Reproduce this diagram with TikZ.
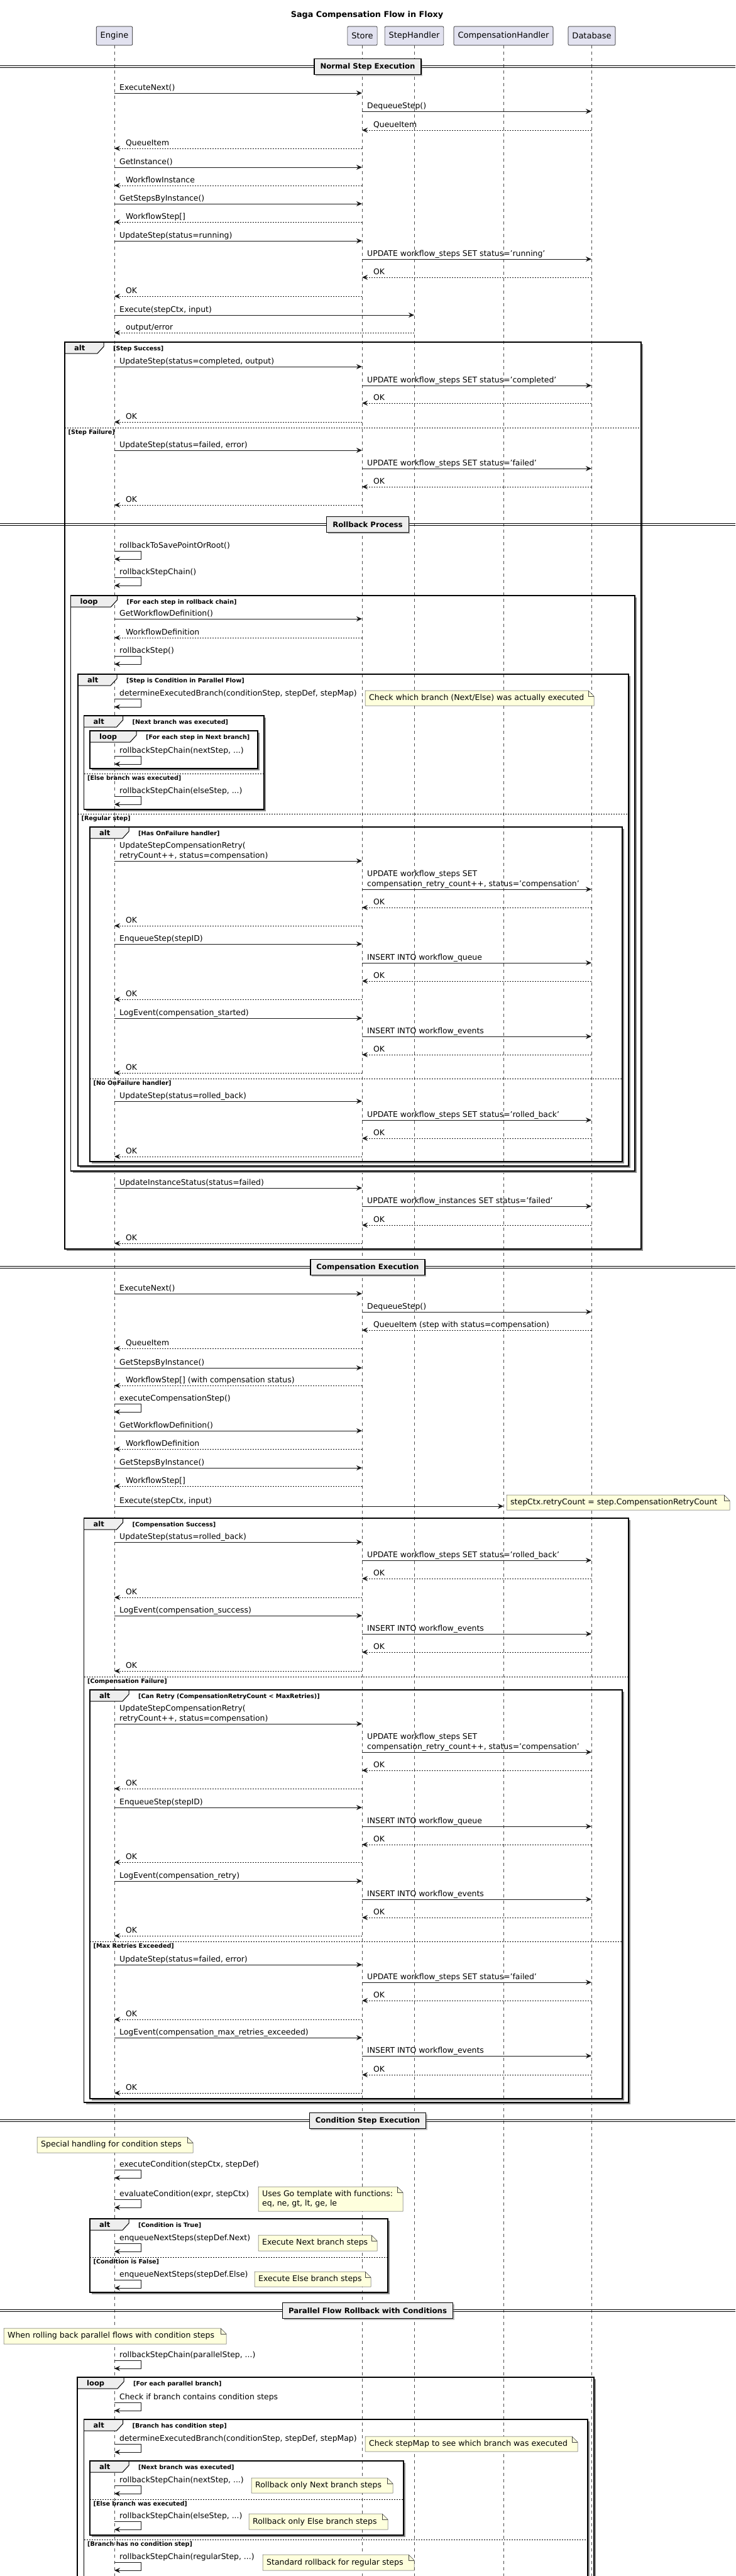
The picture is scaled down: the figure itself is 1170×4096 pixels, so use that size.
\documentclass[tikz,border=0pt]{standalone}
\usepackage{fontspec}
\setmainfont{DejaVu Sans}
\usetikzlibrary{arrows.meta,shadows}
\definecolor{partfill}{HTML}{E2E2F0}
\definecolor{notefill}{HTML}{FEFFDD}
\definecolor{lncol}{HTML}{181818}
\definecolor{divfill}{HTML}{EEEEEE}
\newcounter{mc}
\def\xE{182}\def\xS{576}\def\xH{659}\def\xC{801}\def\xD{941}
\tikzset{
  titletext/.style={font=\bfseries\fontsize{12.8}{15}\selectfont, inner sep=0},
  part/.style={draw=lncol, fill=partfill, line width=0.6pt, rounded corners=2pt,
    minimum height=30pt, inner xsep=6.5pt, inner ysep=0pt, font=\fontsize{13}{15}\selectfont},
  lifeline/.style={line width=0.6pt, draw=black!70, dash pattern=on 5pt off 5pt},
  callarr/.style={line width=1pt, draw=lncol, -{Stealth[length=9pt,width=8pt,inset=3pt]}},
  retarr/.style={line width=1pt, draw=lncol, dash pattern=on 2pt off 2pt, -{Stealth[length=9pt,width=8pt,inset=3pt]}},
  msg/.style={anchor=base west, inner sep=0, font=\fontsize{12.4}{15}\selectfont},
  frameline/.style={line width=1.3pt, draw=black},
  frshadow/.style={line width=1.5pt, draw=black!45},
  tabfill/.style={fill=divfill},
  tabline/.style={line width=1pt, draw=black},
  tabtext/.style={anchor=base west, inner sep=0, font=\bfseries\fontsize{11.5}{13}\selectfont},
  guard/.style={anchor=base west, inner sep=0, font=\bfseries\fontsize{9.6}{11}\selectfont},
  elseline/.style={line width=0.8pt, draw=black, dash pattern=on 2pt off 2pt},
  notebox/.style={fill=notefill, draw=lncol!80, line width=0.5pt},
  notetext/.style={anchor=west, inner sep=0, align=left, font=\fontsize{12.5}{15}\selectfont},
  divline/.style={line width=1pt, draw=black},
  divbox/.style={draw=black, line width=1.2pt, fill=divfill, minimum height=25pt,
    inner xsep=9.5pt, inner ysep=0pt, font=\bfseries\fontsize{11.7}{14}\selectfont,
    drop shadow={shadow xshift=2pt, shadow yshift=-2pt, opacity=0.5}}
}
% rightward call message
\newcommand\Call[4]{%
  \stepcounter{mc}%
  \coordinate (ca\themc) at (#1,#3);
  \coordinate (cb\themc) at (#2,#3);
  \draw[callarr] (ca\themc) -- (cb\themc);
  \node[msg] (cl\themc) at ({#1+8},{#3-4.5}) {#4};
}
% rightward call message, two lines
\newcommand\CallTwo[5]{%
  \stepcounter{mc}%
  \coordinate (ca\themc) at (#1,#3);
  \coordinate (cb\themc) at (#2,#3);
  \draw[callarr] (ca\themc) -- (cb\themc);
  \node[msg] (ck\themc) at ({#1+8},{#3-20.5}) {#4};
  \node[msg] (cl\themc) at ({#1+8},{#3-4.5}) {#5};
}
% leftward return message (from right #1 to left #2)
\newcommand\Ret[4]{%
  \stepcounter{mc}%
  \coordinate (ra\themc) at (#1,#3);
  \coordinate (rb\themc) at (#2,#3);
  \draw[retarr] (ra\themc) -- (rb\themc);
  \node[msg] (rl\themc) at ({#2+18},{#3-4.5}) {#4};
}
% self message on Engine
\newcommand\Self[2]{%
  \stepcounter{mc}%
  \coordinate (sa\themc) at (\xE,#1);
  \coordinate (sb\themc) at (\xE,{#1+13});
  \draw[callarr] (sa\themc) -- ++(42,0) |- (sb\themc);
  \node[msg] (sl\themc) at ({\xE+8},{#1-4.5}) {#2};
}
% frame: x0 y0 x1 y1 kind tabwidth guard
\newcommand\Frame[7]{%
  \stepcounter{mc}%
  \draw[frshadow] ({#1+3},{#4+2}) -- ({#3+2},{#4+2}) -- ({#3+2},{#2+3});
  \fill[tabfill] (#1,#2) -- ({#1+#6},#2) -- ({#1+#6},{#2+7}) -- ({#1+#6-10},{#2+18}) -- (#1,{#2+18}) -- cycle;
  \draw[tabline] ({#1+#6},#2) -- ({#1+#6},{#2+7}) -- ({#1+#6-10},{#2+18}) -- (#1,{#2+18});
  \draw[frameline] (#1,#2) rectangle (#3,#4);
  \node[tabtext] (ft\themc) at ({#1+15},{#2+13.5}) {#5};
  \node[guard] (fg\themc) at ({#1+#6+15},{#2+13.5}) {[#7]};
}
% else separator: x0 x1 y label
\newcommand\Else[4]{%
  \stepcounter{mc}%
  \draw[elseline] (#1,#3) -- (#2,#3);
  \node[guard] (el\themc) at ({#1+5.5},{#3+10.5}) {[#4]};
}
% note: x0 y0 x1 y1 text
\newcommand\Note[5]{%
  \stepcounter{mc}%
  \filldraw[notebox] (#1,#2) -- ({#3-9},#2) -- (#3,{#2+9}) -- (#3,#4) -- (#1,#4) -- cycle;
  \draw[notebox, fill=none] ({#3-9},#2) -- ({#3-9},{#2+9}) -- (#3,{#2+9});
  \node[notetext] (nt\themc) at ({#1+6},{(#2+#4)/2}) {#5};
}
% divider: y label
\newcommand\Divider[2]{%
  \stepcounter{mc}%
  \draw[divline] (0,{#1-1.8}) -- (1170,{#1-1.8});
  \draw[divline] (0,{#1+1.8}) -- (1170,{#1+1.8});
  \node[divbox] (dv\themc) at (585,#1) {#2};
}
\begin{document}
\begin{tikzpicture}[x=1pt,y=-1pt]
\useasboundingbox (0,0) rectangle (1170,4096);
\fill[white] (0,0) rectangle (1170,4096);
\clip (0,0) rectangle (1170,4096);

\node[titletext] (title) at (584,24) {Saga Compensation Flow in Floxy};

% participants
\node[part] (engine) at (\xE,57) {Engine};
\node[part] (store) at (576.5,57) {Store};
\node[part] (steph) at (\xH,57) {StepHandler};
\node[part] (comph) at (\xC,57) {CompensationHandler};
\node[part] (db) at (941.5,57) {Database};
\coordinate (engineEnd) at (\xE,4100);
\coordinate (storeEnd) at (\xS,4100);
\coordinate (stephEnd) at (\xH,4100);
\coordinate (comphEnd) at (\xC,4100);
\coordinate (dbEnd) at (\xD,4100);
\draw[lifeline] (engine.south) -- (engineEnd);
\draw[lifeline] ([xshift=-0.5pt]store.south) -- (storeEnd);
\draw[lifeline] (steph.south) -- (stephEnd);
\draw[lifeline] (comph.south) -- (comphEnd);
\draw[lifeline] ([xshift=-0.5pt]db.south) -- (dbEnd);

% ===== Normal Step Execution =====
\Divider{106}{Normal Step Execution}
\Call{\xE}{\xS}{148}{ExecuteNext()}
\Call{\xS}{\xD}{177}{DequeueStep()}
\Ret{\xD}{\xS}{207}{QueueItem}
\Ret{\xS}{\xE}{236}{QueueItem}
\Call{\xE}{\xS}{266}{GetInstance()}
\Ret{\xS}{\xE}{295}{WorkflowInstance}
\Call{\xE}{\xS}{324}{GetStepsByInstance()}
\Ret{\xS}{\xE}{353}{WorkflowStep[]}
\Call{\xE}{\xS}{383}{UpdateStep(status=running)}
\Call{\xS}{\xD}{412}{UPDATE workflow\_steps SET status='running'}
\Ret{\xD}{\xS}{441}{OK}
\Ret{\xS}{\xE}{471}{OK}
\Call{\xE}{\xH}{501}{Execute(stepCtx, input)}
\Ret{\xH}{\xE}{529}{output/error}

\Frame{103}{544}{1020}{1986}{alt}{62}{Step Success}
\Call{\xE}{\xS}{583}{UpdateStep(status=completed, output)}
\Call{\xS}{\xD}{613}{UPDATE workflow\_steps SET status='completed'}
\Ret{\xD}{\xS}{641}{OK}
\Ret{\xS}{\xE}{671}{OK}
\Else{103}{1020}{680}{Step Failure}
\Call{\xE}{\xS}{716}{UpdateStep(status=failed, error)}
\Call{\xS}{\xD}{745}{UPDATE workflow\_steps SET status='failed'}
\Ret{\xD}{\xS}{774}{OK}
\Ret{\xS}{\xE}{803}{OK}

% ===== Rollback Process =====
\Divider{834}{Rollback Process}
\Self{876}{rollbackToSavePointOrRoot()}
\Self{918}{rollbackStepChain()}
\Frame{112.5}{947}{1010}{1862}{loop}{74}{For each step in rollback chain}
\Call{\xE}{\xS}{984}{GetWorkflowDefinition()}
\Ret{\xS}{\xE}{1014}{WorkflowDefinition}
\Self{1043}{rollbackStep()}
\Frame{124}{1072}{1000}{1854}{alt}{62}{Step is Condition in Parallel Flow}
\Self{1111}{determineExecutedBranch(conditionStep, stepDef, stepMap)}
\Note{581}{1098}{945}{1122}{Check which branch (Next/Else) was actually executed}
\Frame{133.5}{1138}{420}{1287}{alt}{62}{Next branch was executed}
\Frame{143}{1162}{410}{1222}{loop}{74}{For each step in Next branch}
\Self{1202}{rollbackStepChain(nextStep, ...)}
\Else{133.5}{420}{1230}{Else branch was executed}
\Self{1266}{rollbackStepChain(elseStep, ...)}
\Else{124}{1000}{1294}{Regular step}
\Frame{143}{1315}{990}{1847}{alt}{62}{Has OnFailure handler}
\CallTwo{\xE}{\xS}{1369}{UpdateStepCompensationRetry(}{retryCount++, status=compensation)}
\CallTwo{\xS}{\xD}{1414}{UPDATE workflow\_steps SET}{compensation\_retry\_count++, status='compensation'}
\Ret{\xD}{\xS}{1443}{OK}
\Ret{\xS}{\xE}{1472}{OK}
\Call{\xE}{\xS}{1501}{EnqueueStep(stepID)}
\Call{\xS}{\xD}{1531}{INSERT INTO workflow\_queue}
\Ret{\xD}{\xS}{1560}{OK}
\Ret{\xS}{\xE}{1589}{OK}
\Call{\xE}{\xS}{1619}{LogEvent(compensation\_started)}
\Call{\xS}{\xD}{1648}{INSERT INTO workflow\_events}
\Ret{\xD}{\xS}{1677}{OK}
\Ret{\xS}{\xE}{1706}{OK}
\Else{143}{990}{1715}{No OnFailure handler}
\Call{\xE}{\xS}{1751}{UpdateStep(status=rolled\_back)}
\Call{\xS}{\xD}{1781}{UPDATE workflow\_steps SET status='rolled\_back'}
\Ret{\xD}{\xS}{1810}{OK}
\Ret{\xS}{\xE}{1839}{OK}
\Call{\xE}{\xS}{1889}{UpdateInstanceStatus(status=failed)}
\Call{\xS}{\xD}{1918}{UPDATE workflow\_instances SET status='failed'}
\Ret{\xD}{\xS}{1948}{OK}
\Ret{\xS}{\xE}{1977}{OK}

% ===== Compensation Execution =====
\Divider{2015}{Compensation Execution}
\Call{\xE}{\xS}{2057}{ExecuteNext()}
\Call{\xS}{\xD}{2086}{DequeueStep()}
\Ret{\xD}{\xS}{2115}{QueueItem (step with status=compensation)}
\Ret{\xS}{\xE}{2144}{QueueItem}
\Call{\xE}{\xS}{2175}{GetStepsByInstance()}
\Ret{\xS}{\xE}{2203}{WorkflowStep[] (with compensation status)}
\Self{2232}{executeCompensationStep()}
\Call{\xE}{\xS}{2275}{GetWorkflowDefinition()}
\Ret{\xS}{\xE}{2304}{WorkflowDefinition}
\Call{\xE}{\xS}{2334}{GetStepsByInstance()}
\Ret{\xS}{\xE}{2363}{WorkflowStep[]}
\Call{\xE}{\xC}{2395}{Execute(stepCtx, input)}
\Note{806}{2377}{1161}{2401}{stepCtx.retryCount = step.CompensationRetryCount}
\Frame{133.5}{2414}{1000}{3343}{alt}{62}{Compensation Success}
\Call{\xE}{\xS}{2452}{UpdateStep(status=rolled\_back)}
\Call{\xS}{\xD}{2481}{UPDATE workflow\_steps SET status='rolled\_back'}
\Ret{\xD}{\xS}{2510}{OK}
\Ret{\xS}{\xE}{2540}{OK}
\Call{\xE}{\xS}{2569}{LogEvent(compensation\_success)}
\Call{\xS}{\xD}{2598}{INSERT INTO workflow\_events}
\Ret{\xD}{\xS}{2627}{OK}
\Ret{\xS}{\xE}{2657}{OK}
\Else{133.5}{1000}{2666}{Compensation Failure}
\Frame{143}{2687}{990}{3337}{alt}{62}{Can Retry (CompensationRetryCount < MaxRetries)}
\CallTwo{\xE}{\xS}{2741}{UpdateStepCompensationRetry(}{retryCount++, status=compensation)}
\CallTwo{\xS}{\xD}{2786}{UPDATE workflow\_steps SET}{compensation\_retry\_count++, status='compensation'}
\Ret{\xD}{\xS}{2815}{OK}
\Ret{\xS}{\xE}{2844}{OK}
\Call{\xE}{\xS}{2874}{EnqueueStep(stepID)}
\Call{\xS}{\xD}{2904}{INSERT INTO workflow\_queue}
\Ret{\xD}{\xS}{2933}{OK}
\Ret{\xS}{\xE}{2961}{OK}
\Call{\xE}{\xS}{2991}{LogEvent(compensation\_retry)}
\Call{\xS}{\xD}{3020}{INSERT INTO workflow\_events}
\Ret{\xD}{\xS}{3049}{OK}
\Ret{\xS}{\xE}{3078}{OK}
\Else{143}{990}{3087}{Max Retries Exceeded}
\Call{\xE}{\xS}{3124}{UpdateStep(status=failed, error)}
\Call{\xS}{\xD}{3152}{UPDATE workflow\_steps SET status='failed'}
\Ret{\xD}{\xS}{3181}{OK}
\Ret{\xS}{\xE}{3211}{OK}
\Call{\xE}{\xS}{3240}{LogEvent(compensation\_max\_retries\_exceeded)}
\Call{\xS}{\xD}{3269}{INSERT INTO workflow\_events}
\Ret{\xD}{\xS}{3299}{OK}
\Ret{\xS}{\xE}{3328}{OK}

% ===== Condition Step Execution =====
\Divider{3372}{Condition Step Execution}
\Note{59}{3398}{307}{3423}{Special handling for condition steps}
\Self{3450}{executeCondition(stepCtx, stepDef)}
\Self{3497}{evaluateCondition(expr, stepCtx)}
\Note{411}{3477}{641}{3516}{Uses Go template with functions:\\eq, ne, gt, lt, ge, le}
\Frame{143}{3528}{617}{3645}{alt}{62}{Condition is True}
\Self{3567}{enqueueNextSteps(stepDef.Next)}
\Note{411}{3554}{600}{3579}{Execute Next branch steps}
\Else{143}{617}{3589}{Condition is False}
\Self{3625}{enqueueNextSteps(stepDef.Else)}
\Note{405}{3612}{590}{3636}{Execute Else branch steps}

% ===== Parallel Flow Rollback with Conditions =====
\Divider{3674}{Parallel Flow Rollback with Conditions}
\Note{6}{3702}{360}{3727}{When rolling back parallel flows with condition steps}
\Self{3753}{rollbackStepChain(parallelStep, ...)}
\Frame{123}{3780}{945}{4110}{loop}{74}{For each parallel branch}
\Self{3820}{Check if branch contains condition steps}
\Frame{133.5}{3847}{935}{4105}{alt}{62}{Branch has condition step}
\Self{3886}{determineExecutedBranch(conditionStep, stepDef, stepMap)}
\Note{581}{3874}{919}{3898}{Check stepMap to see which branch was executed}
\Frame{143}{3913}{642}{4031}{alt}{62}{Next branch was executed}
\Self{3952}{rollbackStepChain(nextStep, ...)}
\Note{400}{3940}{625}{3964}{Rollback only Next branch steps}
\Else{143}{642}{3974}{Else branch was executed}
\Self{4009}{rollbackStepChain(elseStep, ...)}
\Note{396}{3997}{617}{4022}{Rollback only Else branch steps}
\Else{133.5}{935}{4038}{Branch has no condition step}
\Self{4074}{rollbackStepChain(regularStep, ...)}
\Note{418}{4062}{659}{4087}{Standard rollback for regular steps}
\end{tikzpicture}
\end{document}
